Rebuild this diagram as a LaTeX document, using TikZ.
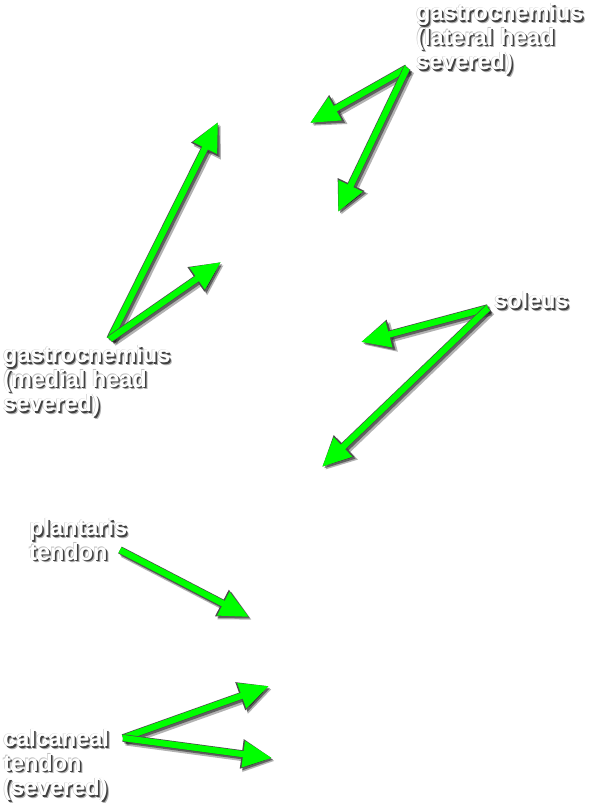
\documentclass[tikz,border=0pt]{standalone}
\usepackage{fontspec}
\setmainfont{Liberation Sans}
\usetikzlibrary{arrows.meta}
\definecolor{arrowgreen}{RGB}{0,255,0}
\newcommand\shbox[1]{\begin{tabular}[t]{@{}l@{}}#1\end{tabular}}
\newcommand\shadowed[1]{%
  \rlap{\kern2.5pt\raisebox{-2.5pt}{\color{black!30}\shbox{#1}}}%
  \rlap{\kern1.5pt\raisebox{-1.5pt}{\color{black!75}\shbox{#1}}}%
  \rlap{\kern-0.5pt\raisebox{0.5pt}{\color{black!25}\shbox{#1}}}%
  {\color{white}\shbox{#1}}}
\tikzset{
  lbl/.style={anchor=north west, inner sep=0pt,
    font=\fontsize{23.5}{24.5}\selectfont\bfseries},
  garrow/.style={
    preaction={draw=black, draw opacity=.30, line width=9pt,
      transform canvas={shift={(3,3)}}, -{Triangle[length=31pt,width=28pt]}},
    preaction={draw=black, draw opacity=.45, line width=7.5pt,
      transform canvas={shift={(1.8,1.8)}}, -{Triangle[length=30pt,width=27pt]}},
    preaction={draw=black!70, line width=7.6pt, -{Triangle[length=30.5pt,width=27.5pt]}},
    draw=arrowgreen, line width=6.2pt, -{Triangle[length=29pt,width=25pt]}
  }
}
\begin{document}
\begin{tikzpicture}[x=1pt,y=-1pt]
\useasboundingbox (0,0) rectangle (589,804);
\fill[white] (0,0) rectangle (589,804);

% labels
\node[lbl] (lat) at (416,3) {\shadowed{gastrocnemius\\(lateral head\\severed)}};
\node[lbl] (med) at (3,345) {\shadowed{gastrocnemius\\(medial head\\severed)}};
\node[lbl] (sol) at (494,291) {\shadowed{soleus}};
\node[lbl] (pla) at (29,518) {\shadowed{plantaris\\tendon}};
\node[lbl] (cal) at (3,729) {\shadowed{calcaneal\\tendon\\(severed)}};

% arrow origins and tips
\coordinate (latO) at (407,68);
\coordinate (latA) at (310,123);
\coordinate (latB) at (338,212);
\coordinate (medO) at (110,339);
\coordinate (medA) at (218,122);
\coordinate (medB) at (221,262);
\coordinate (solO) at (488,308);
\coordinate (solA) at (361,342);
\coordinate (solB) at (322,467);
\coordinate (plaO) at (120,550);
\coordinate (plaA) at (249,617);
\coordinate (calO) at (123,738);
\coordinate (calA) at (269,686);
\coordinate (calB) at (272,758);

\draw[garrow] (latO) -- (latA);
\draw[garrow] (latO) -- (latB);
\draw[garrow] (medO) -- (medA);
\draw[garrow] (medO) -- (medB);
\draw[garrow] (solO) -- (solA);
\draw[garrow] (solO) -- (solB);
\draw[garrow] (plaO) -- (plaA);
\draw[garrow] (calO) -- (calA);
\draw[garrow] (calO) -- (calB);
\end{tikzpicture}
\end{document}
